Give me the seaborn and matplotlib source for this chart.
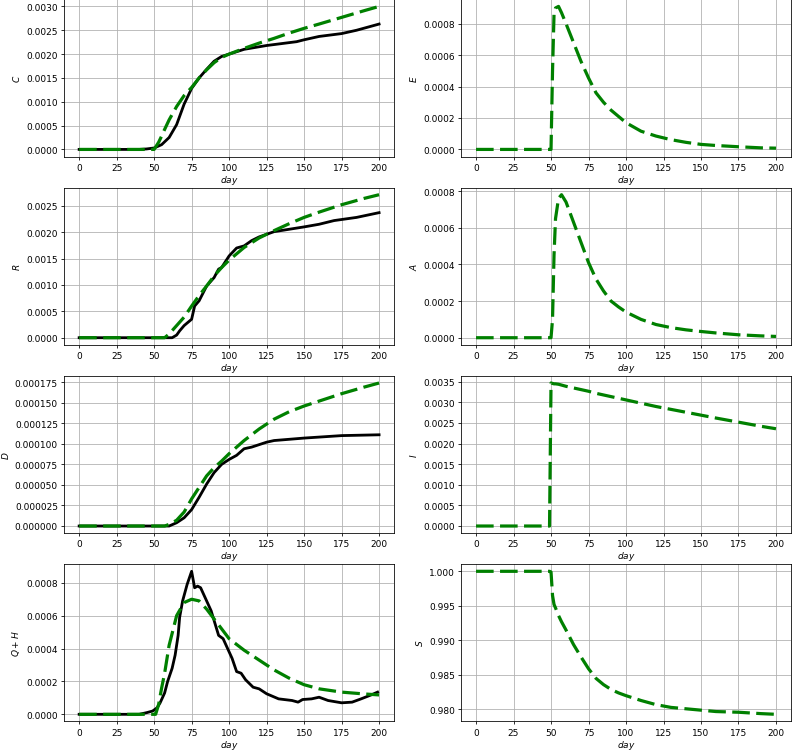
import numpy as np
import matplotlib
matplotlib.use('Agg')
import matplotlib.pyplot as plt
import seaborn as sns

# model time grid (green dashed curves)
days_model = [0, 10, 20, 30, 40, 45, 48, 49, 50, 51, 52, 53, 55, 57, 60, 65, 70, 75, 80,
              85, 90, 95, 100, 110, 120, 130, 140, 150, 160, 175, 190, 200]

C_model = [0, 0, 0, 0, 0, 0, 0, 0, 0, 0.00005, 0.0001, 0.00015, 0.00028, 0.00042, 0.00062,
           0.0009, 0.00113, 0.0013, 0.0015, 0.00167, 0.00182, 0.00193, 0.002, 0.00212,
           0.00223, 0.00233, 0.00244, 0.00254, 0.00263, 0.00277, 0.00291, 0.003]
E_model = [0, 0, 0, 0, 0, 0, 0, 0, 0, 0.0005, 0.00086, 0.0009, 0.00091, 0.00087, 0.0008,
           0.00068, 0.00056, 0.000455, 0.00036, 0.0003, 0.00025, 0.00021, 0.00017, 0.000116,
           0.000085, 0.000062, 0.000045, 0.000032, 0.000025, 0.000017, 0.00001, 0.000008]
R_model = [0, 0, 0, 0, 0, 0, 0, 0, 0, 0, 0, 0, 0, 0, 0.00007, 0.00023, 0.00039, 0.0006,
           0.0008, 0.00098, 0.00117, 0.00133, 0.00147, 0.00171, 0.00189, 0.00203, 0.00216,
           0.00228, 0.00238, 0.00252, 0.00264, 0.00271]
A_model = [0, 0, 0, 0, 0, 0, 0, 0, 0, 0.0001, 0.00045, 0.00065, 0.00076, 0.00078, 0.00074,
           0.00063, 0.00052, 0.00041, 0.00032, 0.000255, 0.0002, 0.000168, 0.00014, 0.0001,
           0.000072, 0.000055, 0.000043, 0.000034, 0.000026, 0.000016, 0.00001, 0.000007]
D_model = [0, 0, 0, 0, 0, 0, 0, 0, 0, 0, 0, 0, 0, 0, 0.000002, 0.000007, 0.000017, 0.000033,
           0.000047, 0.000061, 0.000071, 0.000079, 0.000088, 0.000104, 0.000118, 0.00013,
           0.000139, 0.000146, 0.000152, 0.000161, 0.000169, 0.000174]
I_model = [0, 0, 0, 0, 0, 0, 0, 0, 0.00347, 0.00346, 0.00345, 0.00345, 0.00344, 0.00342,
           0.00339, 0.00335, 0.00331, 0.00327, 0.00322, 0.00318, 0.00314, 0.0031, 0.00306,
           0.00298, 0.0029, 0.00283, 0.00276, 0.00269, 0.00262, 0.00252, 0.00242, 0.00236]
QH_model = [0, 0, 0, 0, 0, 0, 0, 0, 0, 0, 0.00003, 0.00006, 0.00016, 0.00025, 0.00042,
            0.0006, 0.00068, 0.0007, 0.00069, 0.00064, 0.00058, 0.00052, 0.00046, 0.00039,
            0.00033, 0.00027, 0.00022, 0.00018, 0.000155, 0.000135, 0.000124, 0.000118]
S_model = [1, 1, 1, 1, 1, 1, 1, 1, 0.9999, 0.9965, 0.9952, 0.9947, 0.9936, 0.9927, 0.9915,
           0.9894, 0.9876, 0.9859, 0.9845, 0.9836, 0.9829, 0.9824, 0.982, 0.9813, 0.9807,
           0.9803, 0.9801, 0.9799, 0.9797, 0.9796, 0.9794, 0.9793]

# observed data (black solid curves)
days_C = [0, 40, 45, 50, 55, 60, 65, 70, 75, 80, 85, 90, 95, 100, 110, 125, 145, 150, 160,
          175, 185, 200]
C_obs = [0, 0, 0.00001, 0.00003, 0.0001, 0.00025, 0.00052, 0.00095, 0.00128, 0.0015,
         0.00168, 0.00185, 0.00195, 0.002, 0.0021, 0.00218, 0.00226, 0.0023, 0.00237,
         0.00243, 0.0025, 0.00263]
days_R = [0, 60, 62, 65, 67, 70, 75, 77, 80, 85, 90, 93, 95, 100, 105, 110, 115, 120, 125,
          130, 150, 160, 170, 185, 200]
R_obs = [0, 0, 0, 0.00005, 0.00013, 0.00023, 0.00035, 0.0006, 0.0007, 0.00098, 0.00114,
         0.0013, 0.00133, 0.00155, 0.0017, 0.00174, 0.00184, 0.00191, 0.00196, 0.00201,
         0.0021, 0.00215, 0.00222, 0.00228, 0.00237]
days_D = [0, 60, 65, 70, 75, 80, 85, 90, 95, 100, 105, 110, 115, 120, 125, 130, 150, 175, 200]
D_obs = [0, 0, 0.000004, 0.00001, 0.00002, 0.000035, 0.000051, 0.000065, 0.000075, 0.000081,
         0.000086, 0.000094, 0.000096, 0.000099, 0.000102, 0.000104, 0.000107, 0.00011,
         0.000111]
days_QH = [0, 40, 45, 49, 52, 54, 57, 59, 62, 64, 66, 67, 69, 72, 75, 77, 79, 81, 85, 88, 91,
           93, 96, 99, 102, 105, 108, 111, 116, 120, 125, 133, 142, 146, 149, 155, 160, 166,
           175, 182, 188, 195, 199]
QH_obs = [0, 0, 0.00001, 0.00002, 0.00004, 0.00007, 0.00013, 0.0002, 0.00028, 0.00036,
          0.00048, 0.00059, 0.00069, 0.00079, 0.00087, 0.00077, 0.00078, 0.00077, 0.00069,
          0.00063, 0.00054, 0.00048, 0.00046, 0.0004, 0.00034, 0.00026, 0.00025, 0.00021,
          0.000165, 0.000155, 0.000125, 0.000094, 0.000084, 0.000074, 0.00009, 0.000094,
          0.000104, 0.000084, 0.00007, 0.000074, 0.000094, 0.000119, 0.000135]

plt.rcParams['font.size'] = 9
plt.rcParams['xtick.major.pad'] = 3
plt.rcParams['ytick.major.pad'] = 3
plt.rcParams['xtick.major.size'] = 3.2
plt.rcParams['ytick.major.size'] = 3.2

fig, axes = plt.subplots(4, 2, figsize=(11, 10.43), dpi=72)
plt.subplots_adjust(left=0.081, right=0.9987, top=0.9997, bottom=0.038,
                    wspace=0.203, hspace=0.197)

dash = (0, (5.5, 2.0))
panels = [
    (axes[0, 0], '$C$', C_model, days_C, C_obs),
    (axes[0, 1], '$E$', E_model, None, None),
    (axes[1, 0], '$R$', R_model, days_R, R_obs),
    (axes[1, 1], '$A$', A_model, None, None),
    (axes[2, 0], '$D$', D_model, days_D, D_obs),
    (axes[2, 1], '$I$', I_model, None, None),
    (axes[3, 0], '$Q+H$', QH_model, days_QH, QH_obs),
    (axes[3, 1], '$S$', S_model, None, None),
]

for ax, lab, model, dobs, obs in panels:
    if obs is not None:
        sns.lineplot(x=dobs, y=obs, ax=ax, color='k', lw=2.8, estimator=None)
    sns.lineplot(x=days_model, y=model, ax=ax, color='g', lw=3.2, linestyle=dash,
                 estimator=None)
    ax.grid(True)
    ax.set_axisbelow(True)
    ax.set_xlabel('$day$', labelpad=1)
    ax.set_ylabel(lab)
    ax.set_xticks([0, 25, 50, 75, 100, 125, 150, 175, 200])

axes[1, 1].set_yticks([0, 0.0002, 0.0004, 0.0006, 0.0008])

fig.savefig('out.png', dpi=72)
